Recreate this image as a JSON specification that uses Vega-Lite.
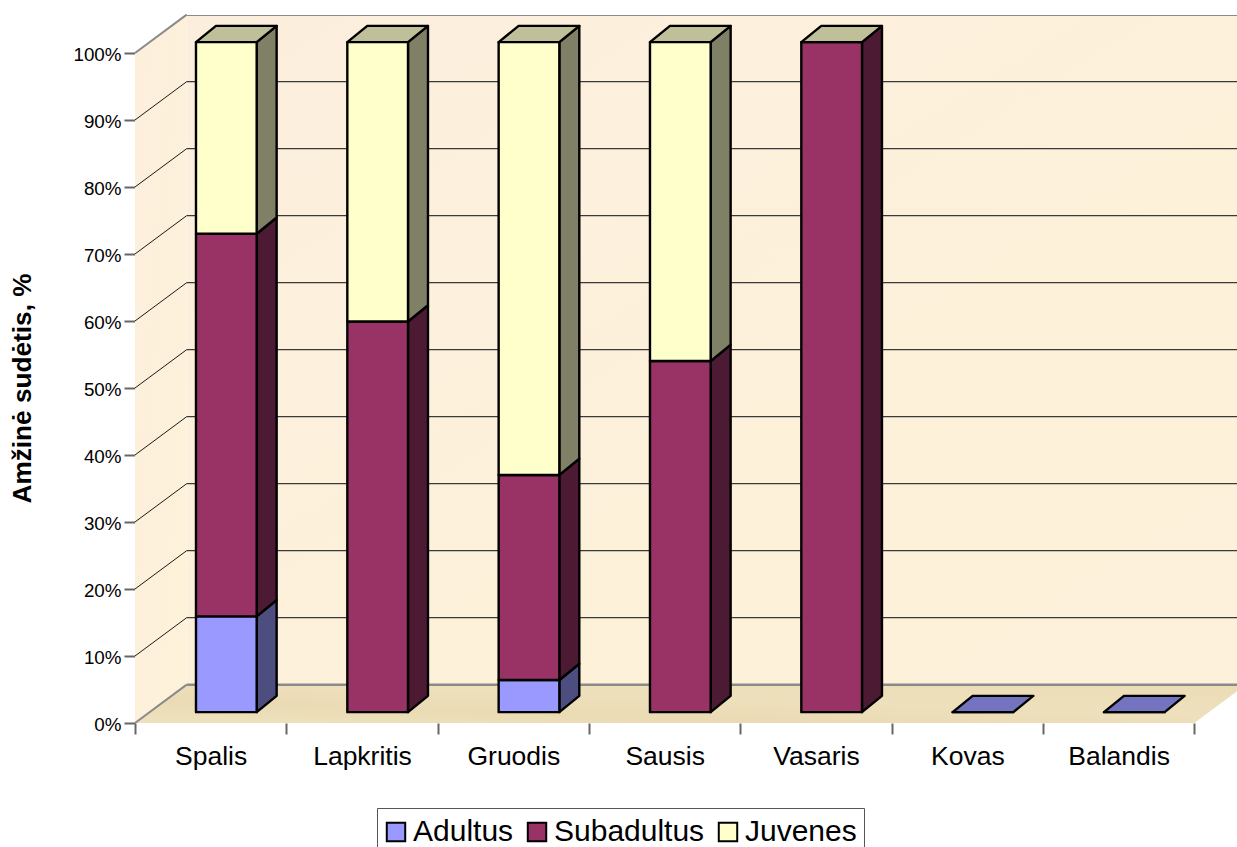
{
  "$schema": "https://vega.github.io/schema/vega-lite/v6.json",
  "autosize": "none",
  "width": 1102,
  "height": 708,
  "padding": {"left": 135, "top": 15, "right": 0, "bottom": 124},
  "background": "white",
  "config": {"view": {"stroke": null}, "font": "Liberation Sans"},
  "datasets": {
    "composition": [
      {"month": "Spalis", "series": "Adultus", "value": 0.143},
      {"month": "Spalis", "series": "Subadultus", "value": 0.571},
      {"month": "Spalis", "series": "Juvenes", "value": 0.286},
      {"month": "Lapkritis", "series": "Subadultus", "value": 0.583},
      {"month": "Lapkritis", "series": "Juvenes", "value": 0.417},
      {"month": "Gruodis", "series": "Adultus", "value": 0.048},
      {"month": "Gruodis", "series": "Subadultus", "value": 0.306},
      {"month": "Gruodis", "series": "Juvenes", "value": 0.646},
      {"month": "Sausis", "series": "Subadultus", "value": 0.524},
      {"month": "Sausis", "series": "Juvenes", "value": 0.476},
      {"month": "Vasaris", "series": "Subadultus", "value": 1},
      {"month": "Vasaris", "series": "Juvenes", "value": 0},
      {"month": "Kovas", "series": "Adultus", "value": 0},
      {"month": "Balandis", "series": "Adultus", "value": 0}
    ],
    "depthEnds": [{"z": 0}, {"z": 1}],
    "gridLevels": [
      {"level": 0}, {"level": 0.1}, {"level": 0.2}, {"level": 0.3}, {"level": 0.4}, {"level": 0.5},
      {"level": 0.6}, {"level": 0.7}, {"level": 0.8}, {"level": 0.9}, {"level": 1}
    ]
  },
  "encoding": {
    "x": {
      "type": "quantitative", "title": null,
      "scale": {"domain": [0, 7.2821], "nice": false, "zero": false},
      "axis": {
        "values": [0, 1, 2, 3, 4, 5, 6, 7],
        "labelExpr": "['Spalis','Lapkritis','Gruodis','Sausis','Vasaris','Kovas','Balandis',''][datum.value]",
        "labelOffset": 75.67, "labelFont": "Liberation Sans", "labelFontSize": 26.5, "labelColor": "black",
        "labelPadding": 9, "labelOverlap": false, "labelFlush": false, "labelBound": false,
        "tickSize": 11, "tickColor": "#666666", "tickWidth": 2, "domain": false, "grid": false
      }
    },
    "y": {
      "type": "quantitative", "title": "Amžinė sudėtis, %", "stack": null,
      "scale": {"domain": [0, 1.0567], "nice": false, "zero": false},
      "axis": {
        "values": [0, 0.1, 0.2, 0.3, 0.4, 0.5, 0.6, 0.7, 0.8, 0.9, 1],
        "format": ".0%", "labelFont": "Liberation Sans", "labelFontSize": 18.8, "labelColor": "black",
        "labelPadding": 3, "labelOffset": 1.5, "tickSize": 11, "tickColor": "#666666", "tickWidth": 2, "domain": false, "grid": false,
        "titleFont": "Liberation Sans", "titleFontSize": 26.2, "titleFontWeight": "bold", "titleColor": "black",
        "titleX": -113, "titleY": 373, "titleAngle": -90, "titleAlign": "center", "titleBaseline": "middle"
      }
    }
  },
  "layer": [
    {
      "description": "Back wall of the 3D box",
      "data": {"values": [{"x0": 0.3416, "x1": 7.2821, "y0": 0.0572, "y1": 1.0567}]},
      "mark": {
        "type": "rect",
        "fill": {
          "gradient": "linear", "x1": 0, "y1": 0, "x2": 1, "y2": 1,
          "stops": [
            {"offset": 0, "color": "#FBEEDD"},
            {"offset": 0.35, "color": "#FDF0DC"},
            {"offset": 0.7, "color": "#FEF1D9"},
            {"offset": 1, "color": "#FDF1DC"}
          ]
        }
      },
      "encoding": {
        "x": {"field": "x0"},
        "x2": {"field": "x1"},
        "y": {"field": "y0"},
        "y2": {"field": "y1"}
      }
    },
    {
      "description": "Left wall",
      "data": {"name": "depthEnds"},
      "transform": [
        {"calculate": "datum.z * 0.3416", "as": "px"},
        {"calculate": "datum.z * 0.0572", "as": "lo"},
        {"calculate": "1 + datum.z * 0.0572", "as": "hi"}
      ],
      "mark": {
        "type": "area", "orient": "vertical",
        "fill": {
          "gradient": "linear", "x1": 0, "y1": 0, "x2": 1, "y2": 1,
          "stops": [{"offset": 0, "color": "#FCEFDC"}, {"offset": 1, "color": "#FEF2DA"}]
        }
      },
      "encoding": {
        "x": {"field": "px"},
        "y": {"field": "lo"},
        "y2": {"field": "hi"}
      }
    },
    {
      "description": "Floor",
      "data": {"name": "depthEnds"},
      "transform": [
        {"calculate": "datum.z * 0.3416", "as": "px0"},
        {"calculate": "7 + datum.z * 0.3416", "as": "px1"},
        {"calculate": "datum.z * 0.0572", "as": "py"}
      ],
      "mark": {
        "type": "area", "orient": "horizontal", "clip": true,
        "fill": {
          "gradient": "linear", "x1": 0, "y1": 1, "x2": 1, "y2": 0,
          "stops": [
            {"offset": 0, "color": "#EFE2BE"},
            {"offset": 0.3, "color": "#EADBB4"},
            {"offset": 0.6, "color": "#EEE0BC"},
            {"offset": 1, "color": "#EBDCB6"}
          ]
        }
      },
      "encoding": {
        "y": {"field": "py"},
        "x": {"field": "px0", "stack": null},
        "x2": {"field": "px1"}
      }
    },
    {
      "description": "Gridlines across the back wall",
      "data": {"name": "gridLevels"},
      "transform": [
        {"filter": "datum.level > 0 && datum.level < 1"},
        {"calculate": "datum.level + 0.0572", "as": "py"}
      ],
      "mark": {"type": "rule", "color": "#3A3A3A", "strokeWidth": 1.3, "clip": true},
      "encoding": {
        "x": {"datum": 0.3416},
        "x2": {"datum": 7.2821},
        "y": {"field": "py"}
      }
    },
    {
      "description": "Gridlines running up the left wall",
      "data": {"name": "gridLevels"},
      "transform": [
        {"filter": "datum.level > 0 && datum.level < 1"},
        {"calculate": "datum.level + 0.0572", "as": "py"}
      ],
      "mark": {"type": "rule", "color": "#1A1A1A", "strokeWidth": 1},
      "encoding": {
        "x": {"datum": 0},
        "x2": {"datum": 0.3416},
        "y": {"field": "level"},
        "y2": {"field": "py"}
      }
    },
    {
      "description": "Grey box edges: back wall top and bottom",
      "data": {"name": "gridLevels"},
      "transform": [
        {"filter": "datum.level == 0 || datum.level == 1"},
        {"calculate": "datum.level + 0.0572", "as": "py"}
      ],
      "mark": {"type": "rule", "color": "#8A8A8A", "strokeWidth": 2.5, "clip": true},
      "encoding": {
        "x": {"datum": 0.3416},
        "x2": {"datum": 7.2821},
        "y": {"field": "py"}
      }
    },
    {
      "description": "Grey box edges: left wall top and bottom diagonals",
      "data": {"name": "gridLevels"},
      "transform": [
        {"filter": "datum.level == 0 || datum.level == 1"},
        {"calculate": "datum.level + 0.0572", "as": "py"}
      ],
      "mark": {"type": "rule", "color": "#8A8A8A", "strokeWidth": 2},
      "encoding": {
        "x": {"datum": 0},
        "x2": {"datum": 0.3416},
        "y": {"field": "level"},
        "y2": {"field": "py"}
      }
    },
    {
      "description": "Back corner of the box",
      "mark": {"type": "rule", "color": "#8A8A8A", "strokeWidth": 2.5},
      "encoding": {
        "x": {"datum": 0.3416},
        "y": {"datum": 0.0572},
        "y2": {"datum": 1.0572}
      }
    },
    {
      "description": "Value axis line",
      "mark": {"type": "rule", "color": "#666666", "strokeWidth": 2},
      "encoding": {
        "x": {"datum": 0},
        "y": {"datum": 0},
        "y2": {"datum": 1}
      }
    },
    {
      "description": "Category axis line",
      "mark": {"type": "rule", "color": "#111111", "strokeWidth": 1.5},
      "encoding": {
        "x": {"datum": 0},
        "x2": {"datum": 7},
        "y": {"datum": 0}
      }
    },
    {
      "description": "Right end of the floor",
      "mark": {"type": "rule", "color": "#222222", "strokeWidth": 1, "clip": true},
      "encoding": {
        "x": {"datum": 7},
        "x2": {"datum": 7.3416},
        "y": {"datum": 0},
        "y2": {"datum": 0.0572}
      }
    },
    {
      "description": "Bar side faces",
      "data": {"name": "composition"},
      "transform": [
        {"calculate": "indexof(['Spalis','Lapkritis','Gruodis','Sausis','Vasaris','Kovas','Balandis'], datum.month)", "as": "m"},
        {"calculate": "indexof(['Adultus','Subadultus','Juvenes'], datum.series)", "as": "s"},
        {"stack": "value", "groupby": ["month"], "sort": [{"field": "s", "order": "ascending"}], "as": ["lo", "hi"]},
        {"filter": "datum.value > 0"},
        {"calculate": "[0, 1]", "as": "z"},
        {"flatten": ["z"]},
        {"calculate": "datum.m + 0.804 + datum.z * 0.132", "as": "px"},
        {"calculate": "datum.lo + 0.0162 + datum.z * 0.0243", "as": "py0"},
        {"calculate": "datum.hi + 0.0162 + datum.z * 0.0243", "as": "py1"},
        {"calculate": "datum.series + ' side'", "as": "face"},
        {"calculate": "datum.month + datum.series", "as": "segment"}
      ],
      "mark": {"type": "area", "orient": "vertical", "stroke": "black", "strokeWidth": 2.4, "strokeJoin": "round"},
      "encoding": {
        "x": {"field": "px"},
        "y": {"field": "py0"},
        "y2": {"field": "py1"},
        "detail": {"field": "segment"},
        "fill": {"field": "face", "type": "nominal"}
      }
    },
    {
      "description": "Top face of each column",
      "data": {"name": "composition"},
      "transform": [
        {"calculate": "indexof(['Spalis','Lapkritis','Gruodis','Sausis','Vasaris','Kovas','Balandis'], datum.month)", "as": "m"},
        {"calculate": "indexof(['Adultus','Subadultus','Juvenes'], datum.series)", "as": "s"},
        {"stack": "value", "groupby": ["month"], "sort": [{"field": "s", "order": "ascending"}], "as": ["lo", "hi"]},
        {"joinaggregate": [{"op": "max", "field": "s", "as": "topS"}], "groupby": ["month"]},
        {"filter": "datum.s == datum.topS"},
        {"calculate": "[0, 1]", "as": "z"},
        {"flatten": ["z"]},
        {"calculate": "datum.m + 0.403 + datum.z * 0.132", "as": "px0"},
        {"calculate": "datum.m + 0.804 + datum.z * 0.132", "as": "px1"},
        {"calculate": "datum.hi + 0.0162 + datum.z * 0.0243", "as": "py"},
        {"calculate": "datum.series + ' top'", "as": "face"}
      ],
      "mark": {"type": "area", "orient": "horizontal", "stroke": "black", "strokeWidth": 2.4, "strokeJoin": "round"},
      "encoding": {
        "y": {"field": "py"},
        "x": {"field": "px0", "stack": null},
        "x2": {"field": "px1"},
        "detail": {"field": "month"},
        "fill": {"field": "face", "type": "nominal"}
      }
    },
    {
      "description": "Front faces of the stacked segments; owns the legend",
      "data": {"name": "composition"},
      "transform": [
        {"calculate": "indexof(['Spalis','Lapkritis','Gruodis','Sausis','Vasaris','Kovas','Balandis'], datum.month)", "as": "m"},
        {"calculate": "indexof(['Adultus','Subadultus','Juvenes'], datum.series)", "as": "s"},
        {"stack": "value", "groupby": ["month"], "sort": [{"field": "s", "order": "ascending"}], "as": ["lo", "hi"]},
        {"calculate": "datum.m + 0.403", "as": "px0"},
        {"calculate": "datum.m + 0.804", "as": "px1"},
        {"calculate": "datum.lo + 0.0162", "as": "py0"},
        {"calculate": "datum.hi + 0.0162", "as": "py1"}
      ],
      "mark": {"type": "rect", "stroke": "black", "strokeWidth": 2.4, "strokeJoin": "round"},
      "encoding": {
        "x": {"field": "px0"},
        "x2": {"field": "px1"},
        "y": {"field": "py0"},
        "y2": {"field": "py1"},
        "fill": {
          "field": "series", "type": "nominal",
          "scale": {
            "domain": ["Adultus", "Subadultus", "Juvenes", "Adultus side", "Subadultus side", "Juvenes side", "Adultus top", "Subadultus top", "Juvenes top"],
            "range": ["#9999FF", "#993366", "#FFFFCC", "#4D4D80", "#4D1A33", "#808066", "#7373BF", "#732650", "#BFBF99"]
          },
          "legend": {
            "values": ["Adultus", "Subadultus", "Juvenes"],
            "title": " ", "titleFontSize": 1, "titlePadding": 1,
            "orient": "none", "legendX": 242, "legendY": 793,
            "direction": "horizontal", "columns": 3, "columnPadding": 9,
            "padding": 7, "fillColor": "white", "strokeColor": "#555555",
            "symbolType": "square", "symbolSize": 340, "symbolOffset": -3, "symbolStrokeColor": "black", "symbolStrokeWidth": 2, "symbolOpacity": 1,
            "labelFont": "Liberation Sans", "labelFontSize": 30, "labelColor": "black", "labelOffset": 2, "labelLimit": 300
          }
        }
      }
    }
  ]
}
